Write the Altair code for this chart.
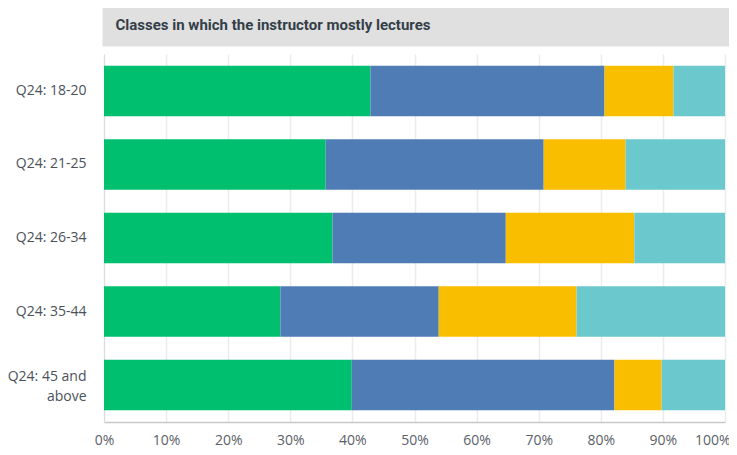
import altair as alt
import pandas as pd

categories = ["Q24: 18-20", "Q24: 21-25", "Q24: 26-34", "Q24: 35-44", "Q24: 45 and above"]
series = ["Response A", "Response B", "Response C", "Response D"]
colors = ["#00bf6f", "#507cb6", "#f9be00", "#6bc8cd"]
values = {
    "Response A": [42.9, 35.7, 36.8, 28.4, 39.9],
    "Response B": [37.7, 35.1, 27.9, 25.5, 42.3],
    "Response C": [11.1, 13.2, 20.7, 22.2, 7.6],
    "Response D": [8.3, 16.0, 14.6, 23.9, 10.2],
}
title_text = "Classes in which the instructor mostly lectures"

rows = []
for si, s in enumerate(series):
    for ci, c in enumerate(categories):
        rows.append({"group": c, "series": s, "order": si, "value": values[s][ci] / 100.0})
df = pd.DataFrame(rows)

W, H = 621, 368

bars = alt.Chart(df).mark_bar(size=50.7).encode(
    x=alt.X("value:Q", stack="zero",
            scale=alt.Scale(domain=[0, 1], nice=False),
            axis=alt.Axis(format="%", values=[i / 10 for i in range(11)], title=None,
                          ticks=False, labelPadding=11, labelFontSize=14,
                          labelFont="Open Sans", labelColor="#5b6168",
                          labelAlign=alt.expr("datum.value == 1 ? 'right' : 'center'"),
                          labelOffset=alt.expr("datum.value == 1 ? 5 : 0"),
                          domainColor="#c8c8c8", domainWidth=1.5,
                          gridColor="#ececec", gridWidth=1.5)),
    y=alt.Y("group:N", sort=categories, title=None,
            scale=alt.Scale(paddingInner=0.31, paddingOuter=0.158),
            axis=alt.Axis(ticks=False, labelPadding=18, labelFontSize=14,
                          labelFont="Open Sans", labelColor="#4b5158",
                          labelLineHeight=20, labelLimit=200, grid=False,
                          labelExpr="datum.label == 'Q24: 45 and above' ? ['Q24: 45 and', 'above'] : datum.label",
                          labelOffset=alt.expr("datum.value == 'Q24: 45 and above' ? -8 : 0"),
                          domainColor="#dcdcdc", domainWidth=1)),
    color=alt.Color("series:N", scale=alt.Scale(domain=series, range=colors), legend=None),
    order=alt.Order("order:Q"),
)

box_df = pd.DataFrame({"t": [title_text]})
box = alt.Chart(box_df).mark_rect(color="#e0e0e0", clip=False).encode(
    x=alt.value(-1.5), x2=alt.value(W + 4), y=alt.value(-46), y2=alt.value(-7.5)
)
title = alt.Chart(box_df).mark_text(align="left", baseline="middle", font="Roboto",
                                    fontSize=15, fontWeight="bold", color="#333e48",
                                    clip=False).encode(
    x=alt.value(11.5), y=alt.value(-29), text="t:N"
)

chart = alt.layer(box, bars, title).properties(
    width=W, height=H,
    autosize=alt.AutoSizeParams(type="none"),
    padding={"left": 96, "top": 46, "right": 4, "bottom": 25},
).configure_view(stroke=None)

chart.save("out.html", embed_options={"renderer": "svg", "actions": False})
